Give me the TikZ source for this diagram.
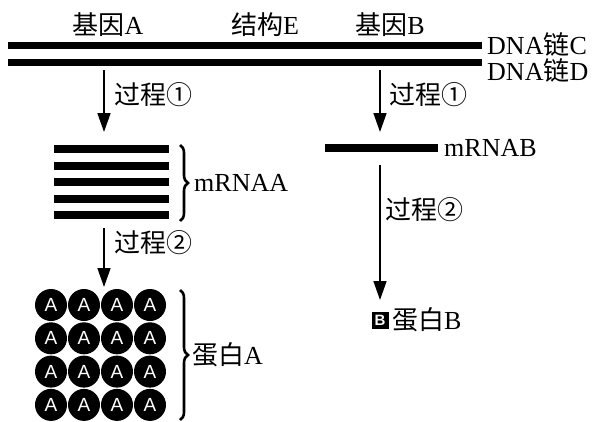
\documentclass[tikz,border=0pt]{standalone}
\usepackage{fontspec}
\setmainfont{Liberation Serif}
\newfontfamily\cjk{Noto Sans CJK SC}
\newfontfamily\lsans{Liberation Sans}
\usetikzlibrary{arrows.meta,decorations.pathreplacing}
\begin{document}
\begin{tikzpicture}[x=1pt,y=-1pt,
  every node/.style={inner sep=0pt, font=\fontsize{26}{26}\selectfont},
  strandbox/.style={fill=black, minimum width=474pt, minimum height=7pt, inner sep=0pt},
  barbox/.style={fill=black, minimum width=115pt, minimum height=8pt, inner sep=0pt},
  flow/.style={line width=1.6pt, -{Triangle[width=13pt,length=19pt]}},
  ball/.style={circle, fill=black, minimum size=32pt, inner sep=0pt, text=white, font=\lsans\fontsize{19}{19}\selectfont},
  bbox/.style={fill=black, minimum size=17pt, inner sep=0pt, text=white, font=\lsans\bfseries\fontsize{15}{15}\selectfont},
  lbl/.style={anchor=west},
  brc/.style={decorate, decoration={brace, amplitude=8pt}, line width=2.6pt}
]
\useasboundingbox (0,0) rectangle (596,421);
% top labels
\node (gA) at (108,25) {{\cjk 基因}A};
\node (sE) at (265,25) {{\cjk 结构}E};
\node (gB) at (390,25) {{\cjk 基因}B};
% DNA strands
\node[strandbox] (C) at (245,45) {};
\node[strandbox] (D) at (245,62) {};
\node[lbl] (lC) at (487,44) {DNA{\cjk 链}C};
\node[lbl] (lD) at (487,70) {DNA{\cjk 链}D};
% left branch
\coordinate (a1s) at (104,70);
\coordinate (a1e) at (104,132);
\draw[flow] (a1s) -- (a1e);
\node[lbl] (p1L) at (114,95) {{\cjk 过程①}};
\foreach \i in {0,...,4} {
  \node[barbox] (b\i) at (111,{149+16.5*\i}) {};
}
\draw[brc] (180,145) -- (180,221);
\node[lbl] (mA) at (194,183) {mRNAA};
\coordinate (a2s) at (104,228);
\coordinate (a2e) at (104,287);
\draw[flow] (a2s) -- (a2e);
\node[lbl] (p2L) at (114,243) {{\cjk 过程②}};
\foreach \r in {0,...,3} {
  \foreach \c in {0,...,3} {
    \node[ball] (pA\r\c) at ({51+33*\c},{305+33.3*\r}) {A};
  }
}
\draw[brc] (180,290) -- (180,420);
\node[lbl] (ptA) at (192,355) {{\cjk 蛋白}A};
% right branch
\coordinate (r1s) at (380,70);
\coordinate (r1e) at (380,132);
\draw[flow] (r1s) -- (r1e);
\node[lbl] (p1R) at (389,95) {{\cjk 过程①}};
\node[barbox, minimum width=113pt] (mB) at (381,148) {};
\node[lbl] (mBl) at (444,148) {mRNAB};
\coordinate (r2s) at (380,165);
\coordinate (r2e) at (380,300);
\draw[flow] (r2s) -- (r2e);
\node[lbl] (p2R) at (385,210) {{\cjk 过程②}};
\node[bbox] (Bb) at (380,320) {B};
\node[lbl] (ptB) at (392,320) {{\cjk 蛋白}B};
\end{tikzpicture}
\end{document}
